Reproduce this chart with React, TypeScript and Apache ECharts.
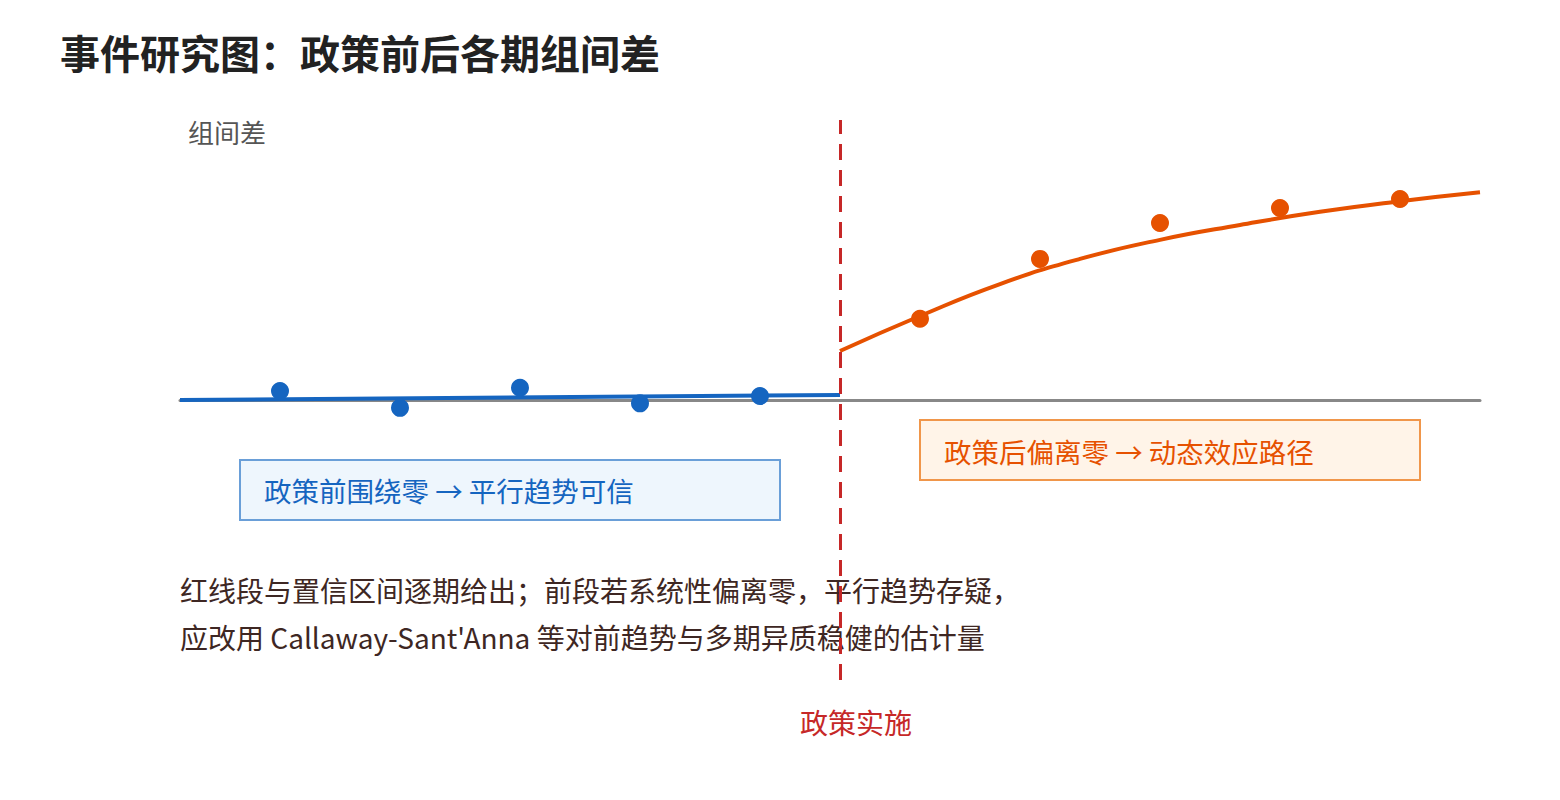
import React, { useEffect, useRef } from "react";
import * as echarts from "echarts";

// Event time (policy at 0); one plotted unit = 1/1.5 of a period step
const prePeriods = [-7, -5.5, -4, -2.5, -1];
const preValues = [0.16, -0.14, 0.22, -0.06, 0.07];
const postPeriods = [1, 2.5, 4, 5.5, 7];
const postValues = [1.45, 2.52, 3.16, 3.43, 3.59];
// Pre-period fitted line (near zero)
const preFitX = [-8.25, 0];
const preFitY = [0, 0.09];
// Post-period fitted dynamic-effect path
const postFitX = [0, 1, 2, 3, 4, 5, 6, 7, 8];
const postFitY = [0.875, 1.5, 2.07, 2.52, 2.86, 3.125, 3.36, 3.55, 3.71];
const policyTime = 0;

const titleText = "事件研究图：政策前后各期组间差";
const yName = "组间差";
const preNote = "政策前围绕零 → 平行趋势可信";
const postNote = "政策后偏离零 → 动态效应路径";
const footLines = [
  "红线段与置信区间逐期给出；前段若系统性偏离零，平行趋势存疑，",
  "应改用 Callaway-Sant'Anna 等对前趋势与多期异质稳健的估计量",
];
const policyLabel = "政策实施";

const FONT = "'Noto Sans CJK SC', 'Noto Sans', sans-serif";
const BLUE = "#1565c0";
const ORANGE = "#e65100";
const RED = "#c62828";

export default function App() {
  const ref = useRef<HTMLDivElement>(null);
  useEffect(() => {
    document.body.style.margin = "0";
    if (!ref.current) return;
    const chart = echarts.init(ref.current, null, { renderer: "svg" });
    const zip = (xs: number[], ys: number[]) => xs.map((x, i) => [x, ys[i]]);
    chart.setOption({
      animation: false,
      textStyle: { fontFamily: FONT },
      grid: { left: 180, right: 80, top: 120, bottom: 120 },
      xAxis: {
        type: "value",
        min: -8.25,
        max: 8,
        axisLine: { show: true, onZero: true, lineStyle: { color: "#888888", width: 3 } },
        axisTick: { show: false },
        axisLabel: { show: false },
        splitLine: { show: false },
      },
      yAxis: {
        type: "value",
        min: -5,
        max: 5,
        axisLine: { show: false },
        axisTick: { show: false },
        axisLabel: { show: false },
        splitLine: { show: false },
      },
      graphic: [
        {
          type: "text",
          left: 60,
          top: 32,
          style: { text: titleText, font: `bold 40px ${FONT}`, fill: "#222222" },
        },
        {
          type: "text",
          x: 188,
          y: 131,
          style: { text: yName, font: `26px ${FONT}`, fill: "#555555", verticalAlign: "middle" },
        },
        {
          type: "rect",
          shape: { x: 240, y: 460, width: 540, height: 60 },
          style: { fill: "#eef6fd", stroke: "#6a9fd8", lineWidth: 2 },
        },
        {
          type: "text",
          x: 264,
          y: 490,
          style: { text: preNote, font: `27.5px ${FONT}`, fill: BLUE, verticalAlign: "middle" },
        },
        {
          type: "rect",
          shape: { x: 920, y: 420, width: 500, height: 60 },
          style: { fill: "#fff4e8", stroke: "#f0964a", lineWidth: 2 },
        },
        {
          type: "text",
          x: 944,
          y: 451,
          style: { text: postNote, font: `27.5px ${FONT}`, fill: ORANGE, verticalAlign: "middle" },
        },
        {
          type: "text",
          x: 180,
          y: 590,
          style: { text: footLines[0], font: `28px ${FONT}`, fill: "#3e2723", verticalAlign: "middle" },
        },
        {
          type: "text",
          x: 180,
          y: 637,
          style: { text: footLines[1], font: `28px ${FONT}`, fill: "#3e2723", verticalAlign: "middle" },
        },
        {
          type: "text",
          x: 800,
          y: 722,
          style: { text: policyLabel, font: `28px ${FONT}`, fill: RED, verticalAlign: "middle" },
        },
      ],
      series: [
        {
          type: "line",
          data: zip(preFitX, preFitY),
          symbol: "none",
          lineStyle: { color: BLUE, width: 4 },
          z: 3,
        },
        {
          type: "scatter",
          data: zip(prePeriods, preValues),
          symbolSize: 18,
          itemStyle: { color: BLUE, opacity: 1 },
          z: 4,
        },
        {
          type: "line",
          data: zip(postFitX, postFitY),
          smooth: true,
          symbol: "none",
          lineStyle: { color: ORANGE, width: 4 },
          z: 3,
        },
        {
          type: "scatter",
          data: zip(postPeriods, postValues),
          symbolSize: 18,
          itemStyle: { color: ORANGE, opacity: 1 },
          z: 4,
          markLine: {
            silent: true,
            symbol: "none",
            label: { show: false },
            lineStyle: { color: RED, width: 3, type: [16, 10] },
            data: [{ xAxis: policyTime }],
          },
        },
      ],
    });
    return () => chart.dispose();
  }, []);
  return <div ref={ref} style={{ width: 1560, height: 800 }} />;
}
